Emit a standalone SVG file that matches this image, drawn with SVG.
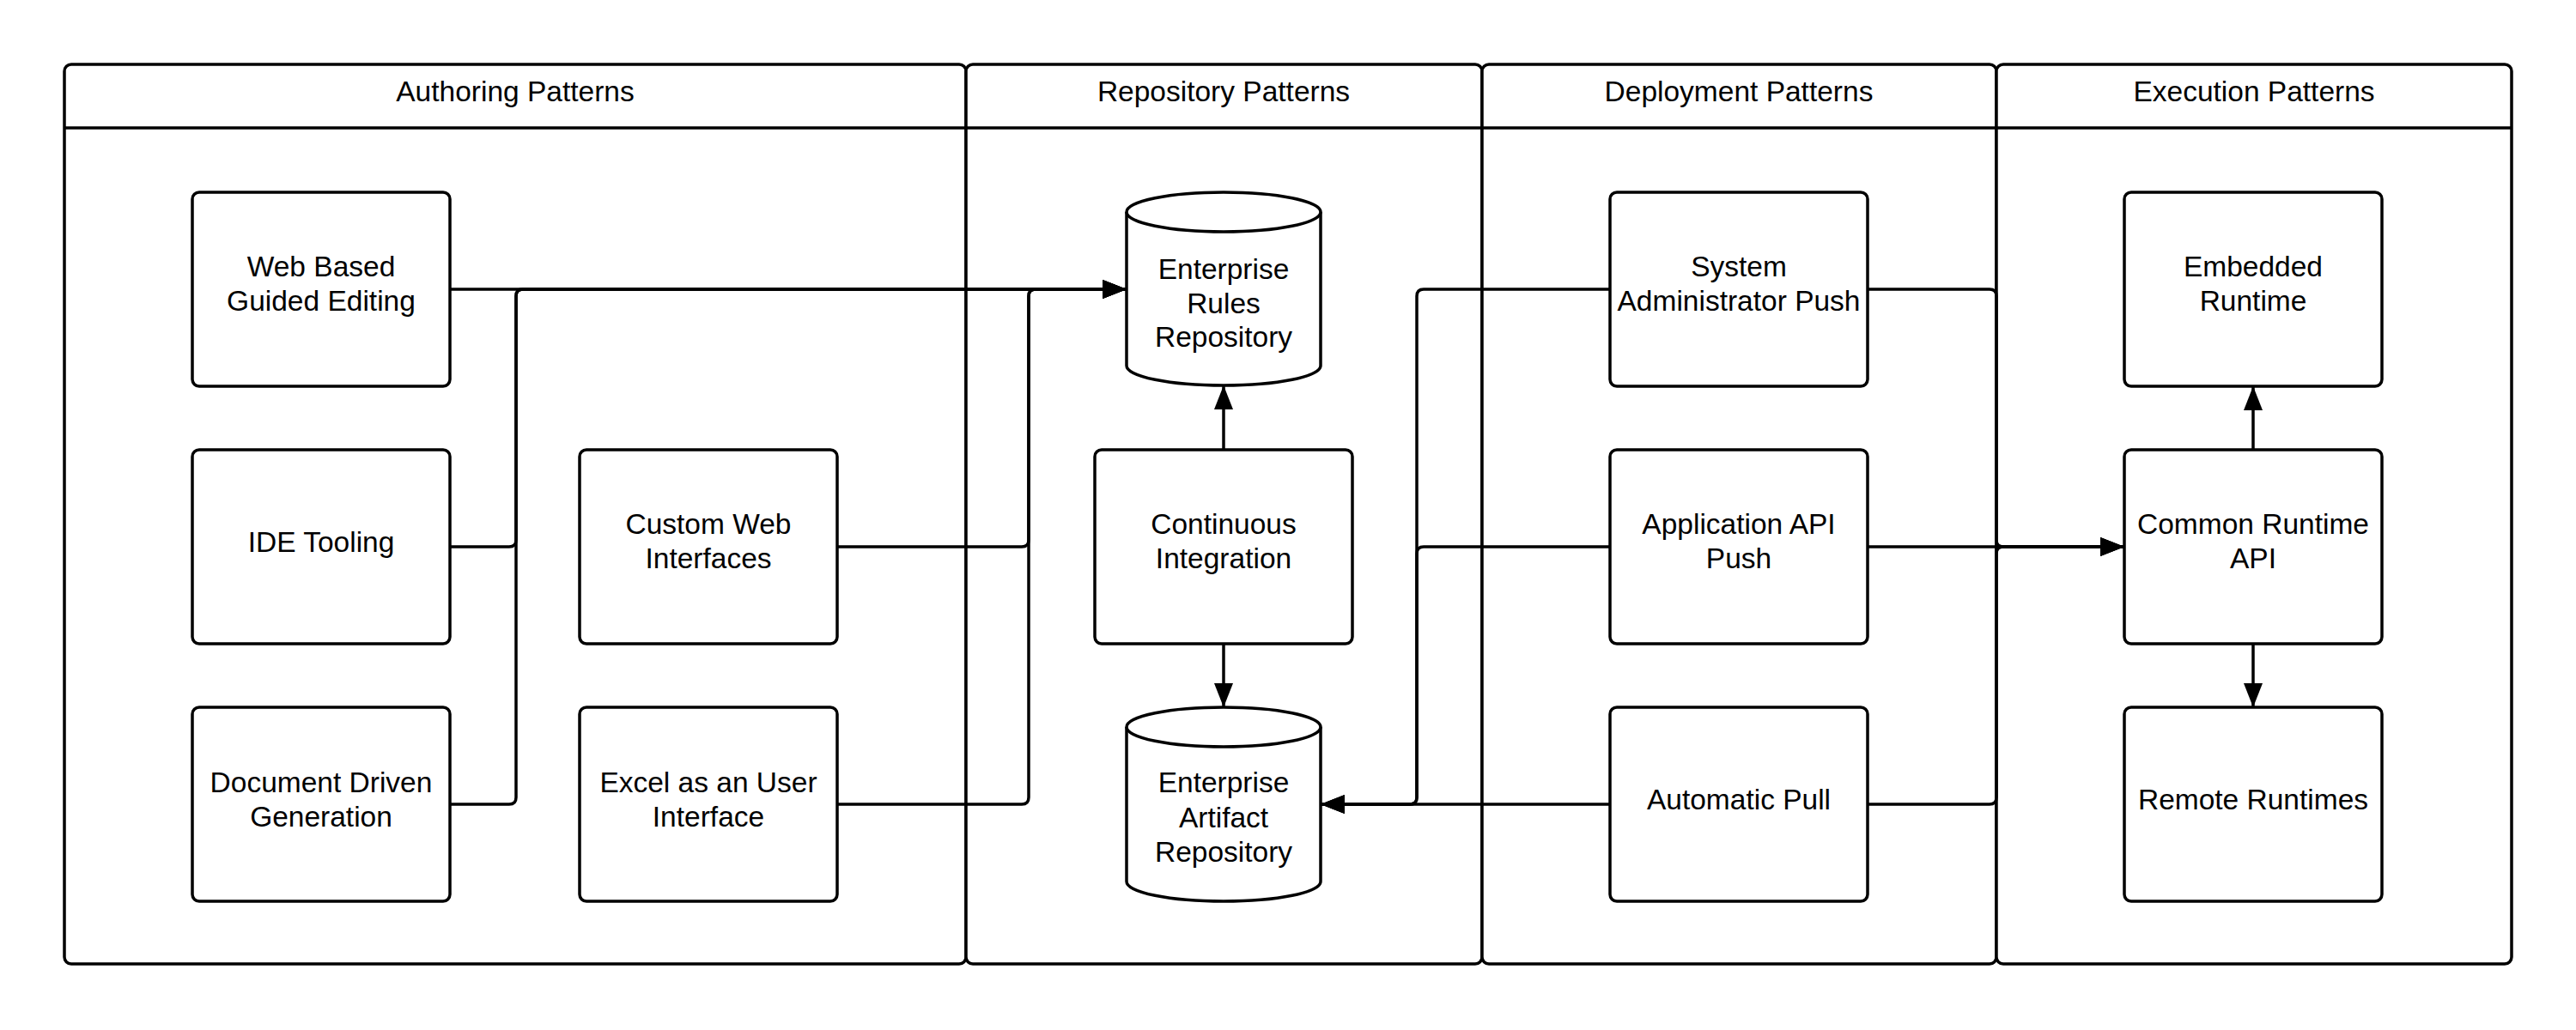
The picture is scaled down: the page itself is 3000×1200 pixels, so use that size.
<svg xmlns="http://www.w3.org/2000/svg" width="3000" height="1200" viewBox="0 0 3000 1200">
<style>
.lane{fill:#fff;stroke:#000;stroke-width:3.5}
.hl{stroke:#000;stroke-width:3.5;fill:none}
.box{fill:#fff;stroke:#000;stroke-width:3.5}
.cyl{fill:#fff;stroke:#000;stroke-width:3.5}
.t{font-family:"Liberation Sans",Arial,sans-serif;font-size:33.5px;fill:#000;text-anchor:middle}
.c{fill:none;stroke:#000;stroke-width:3.5}
.a{fill:none;stroke:#000;stroke-width:3.5;marker-end:url(#arr)}
</style>
<defs>
<marker id="arr" markerUnits="userSpaceOnUse" markerWidth="28" markerHeight="22" refX="28" refY="11" orient="auto">
<path d="M0,0 L28,11 L0,22 Z" fill="#000"/>
</marker>
</defs>
<rect width="3000" height="1200" fill="#fff"/>
<g id="lanes">
<g id="lane-authoring">
<rect class="lane" x="75" y="75" width="1050" height="1048" rx="8"/>
<line class="hl" x1="75" y1="149" x2="1125" y2="149"/>
<text class="t" x="600" y="118">Authoring Patterns</text>
</g>
<g id="lane-repository">
<rect class="lane" x="1125" y="75" width="601" height="1048" rx="8"/>
<line class="hl" x1="1125" y1="149" x2="1726" y2="149"/>
<text class="t" x="1425" y="118">Repository Patterns</text>
</g>
<g id="lane-deployment">
<rect class="lane" x="1726" y="75" width="599" height="1048" rx="8"/>
<line class="hl" x1="1726" y1="149" x2="2325" y2="149"/>
<text class="t" x="2025" y="118">Deployment Patterns</text>
</g>
<g id="lane-execution">
<rect class="lane" x="2325" y="75" width="600" height="1048" rx="8"/>
<line class="hl" x1="2325" y1="149" x2="2925" y2="149"/>
<text class="t" x="2625" y="118">Execution Patterns</text>
</g>
</g>
<g id="connectors">
<path class="a" d="M524,337 H1312"/>
<path class="a" d="M524,637 H593 Q601,637 601,629 V345 Q601,337 609,337 H1312"/>
<path class="a" d="M524,937 H593 Q601,937 601,929 V345 Q601,337 609,337 H1312"/>
<path class="a" d="M975,637 H1190 Q1198,637 1198,629 V345 Q1198,337 1206,337 H1312"/>
<path class="a" d="M975,937 H1190 Q1198,937 1198,929 V345 Q1198,337 1206,337 H1312"/>
<path class="a" d="M1425,524 V449"/>
<path class="a" d="M1425,750 V824"/>
<path class="a" d="M1875,337 H1658 Q1650,337 1650,345 V929 Q1650,937 1642,937 H1538"/>
<path class="a" d="M1875,637 H1658 Q1650,637 1650,645 V929 Q1650,937 1642,937 H1538"/>
<path class="a" d="M1875,937 H1538"/>
<path class="a" d="M2175,337 H2317 Q2325,337 2325,345 V629 Q2325,637 2333,637 H2474"/>
<path class="a" d="M2175,637 H2474"/>
<path class="a" d="M2175,937 H2317 Q2325,937 2325,929 V645 Q2325,637 2333,637 H2474"/>
<path class="a" d="M2624,524 V450"/>
<path class="a" d="M2624,750 V824"/>
</g>
<g id="web-based">
<rect class="box" x="224" y="224" width="300" height="226" rx="8"/>
<text class="t" x="374" y="322">Web Based</text>
<text class="t" x="374" y="362">Guided Editing</text>
</g>
<g id="ide-tooling">
<rect class="box" x="224" y="524" width="300" height="226" rx="8"/>
<text class="t" x="374" y="643">IDE Tooling</text>
</g>
<g id="document-driven">
<rect class="box" x="224" y="824" width="300" height="226" rx="8"/>
<text class="t" x="374" y="923">Document Driven</text>
<text class="t" x="374" y="963">Generation</text>
</g>
<g id="custom-web">
<rect class="box" x="675" y="524" width="300" height="226" rx="8"/>
<text class="t" x="825" y="622">Custom Web</text>
<text class="t" x="825" y="662">Interfaces</text>
</g>
<g id="excel">
<rect class="box" x="675" y="824" width="300" height="226" rx="8"/>
<text class="t" x="825" y="923">Excel as an User</text>
<text class="t" x="825" y="963">Interface</text>
</g>
<g id="rules-repo">
<path class="cyl" d="M1312,247 A113,23 0 0 1 1538,247 V426 A113,23 0 0 1 1312,426 Z"/>
<path class="cyl" d="M1312,247 A113,23 0 0 0 1538,247" fill="none"/>
<text class="t" x="1425" y="325">Enterprise</text>
<text class="t" x="1425" y="365">Rules</text>
<text class="t" x="1425" y="404">Repository</text>
</g>
<g id="ci">
<rect class="box" x="1275" y="524" width="300" height="226" rx="8"/>
<text class="t" x="1425" y="622">Continuous</text>
<text class="t" x="1425" y="662">Integration</text>
</g>
<g id="artifact-repo">
<path class="cyl" d="M1312,847 A113,23 0 0 1 1538,847 V1027 A113,23 0 0 1 1312,1027 Z"/>
<path class="cyl" d="M1312,847 A113,23 0 0 0 1538,847" fill="none"/>
<text class="t" x="1425" y="923">Enterprise</text>
<text class="t" x="1425" y="964">Artifact</text>
<text class="t" x="1425" y="1004">Repository</text>
</g>
<g id="sysadmin-push">
<rect class="box" x="1875" y="224" width="300" height="226" rx="8"/>
<text class="t" x="2025" y="322">System</text>
<text class="t" x="2025" y="362">Administrator Push</text>
</g>
<g id="app-api-push">
<rect class="box" x="1875" y="524" width="300" height="226" rx="8"/>
<text class="t" x="2025" y="622">Application API</text>
<text class="t" x="2025" y="662">Push</text>
</g>
<g id="auto-pull">
<rect class="box" x="1875" y="824" width="300" height="226" rx="8"/>
<text class="t" x="2025" y="943">Automatic Pull</text>
</g>
<g id="embedded">
<rect class="box" x="2474" y="224" width="300" height="226" rx="8"/>
<text class="t" x="2624" y="322">Embedded</text>
<text class="t" x="2624" y="362">Runtime</text>
</g>
<g id="common-api">
<rect class="box" x="2474" y="524" width="300" height="226" rx="8"/>
<text class="t" x="2624" y="622">Common Runtime</text>
<text class="t" x="2624" y="662">API</text>
</g>
<g id="remote">
<rect class="box" x="2474" y="824" width="300" height="226" rx="8"/>
<text class="t" x="2624" y="943">Remote Runtimes</text>
</g>
</svg>
